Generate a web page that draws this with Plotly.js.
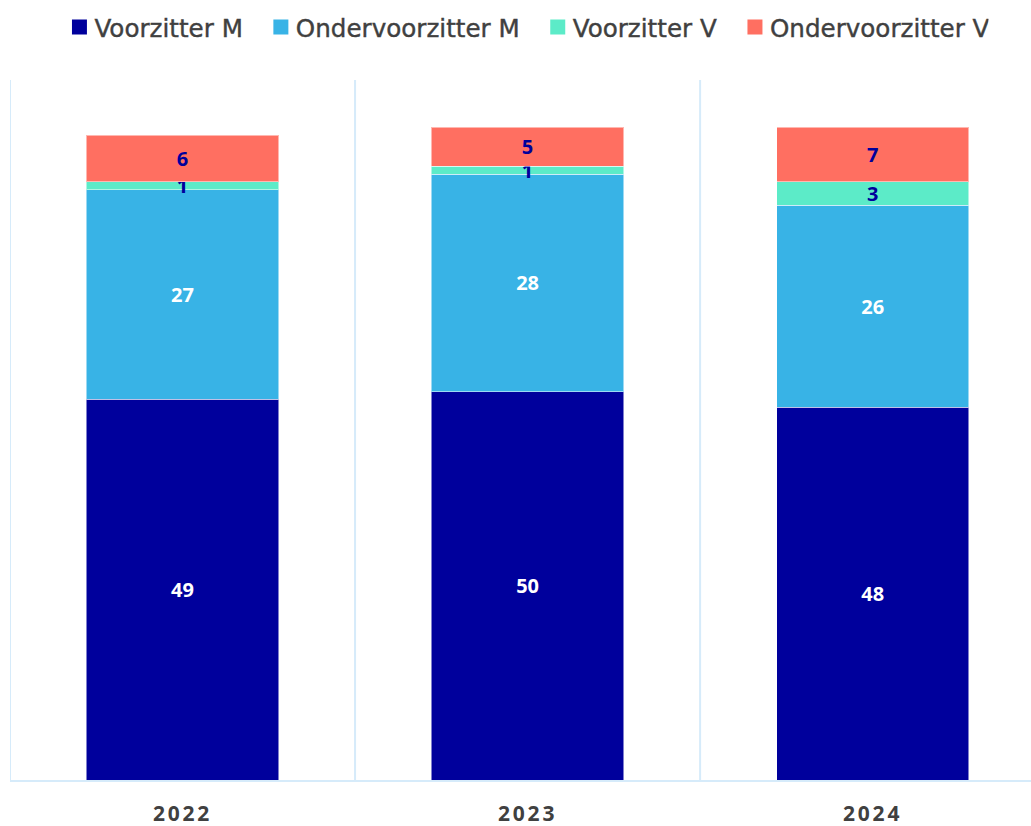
<!DOCTYPE html>
<html>
<head>
<meta charset="utf-8">
<script src="https://cdn.plot.ly/plotly-3.0.1.min.js"></script>
<style>
html,body{margin:0;padding:0;background:#fff;}
#chart{width:1031px;height:826px;}
.xtick text{letter-spacing:2.8px;}
.legendtext{stroke:#404040;stroke-width:0.4px;}
</style>
</head>
<body>
<div id="chart"></div>
<script>
const years = ['2022', '2023', '2024'];
const seriesNames = ['Voorzitter M', 'Ondervoorzitter M', 'Voorzitter V', 'Ondervoorzitter V'];
const voorzitterM = [49, 50, 48];
const ondervoorzitterM = [27, 28, 26];
const voorzitterV = [1, 1, 3];
const ondervoorzitterV = [6, 5, 7];

const colors = ['#00009C', '#38B3E6', '#5CEBC8', '#FF6F61'];
const labelColors = ['#FFFFFF', '#FFFFFF', '#00009C', '#00009C'];
const allValues = [voorzitterM, ondervoorzitterM, voorzitterV, ondervoorzitterV];

const traces = allValues.map((vals, i) => ({
  type: 'bar',
  name: seriesNames[i],
  x: years,
  y: vals,
  width: 0.557,
  marker: {color: colors[i], line: {color: 'rgba(255,255,255,0.5)', width: 1}},
  text: vals.map(String),
  textposition: 'inside',
  insidetextanchor: 'middle',
  textangle: 0,
  constraintext: 'none',
  textfont: {family: 'Noto Sans, sans-serif', size: 20, color: labelColors[i], weight: 'bold'},
  hoverinfo: 'name+y'
}));

const shapes = [-0.5, 0.5, 1.5].map(xv => ({
  type: 'line', xref: 'x', yref: 'paper', x0: xv, x1: xv, y0: 0, y1: 1,
  line: {color: '#D6EBFA', width: 2}, layer: 'below'
}));

const layout = {
  width: 1031, height: 826,
  margin: {l: 10, r: 0, t: 80, b: 46},
  barmode: 'stack',
  bargap: 0.443,
  paper_bgcolor: '#fff', plot_bgcolor: '#fff',
  uniformtext: {mode: 'show', minsize: 20},
  xaxis: {
    type: 'category',
    range: [-0.5, 2.459],
    showgrid: false, zeroline: false,
    showline: true, linecolor: '#D6EBFA', linewidth: 2,
    ticks: '',
    tickfont: {family: 'Noto Sans, sans-serif', size: 21, color: '#404040', weight: 'bold'},
    ticklabelstandoff: 14
  },
  yaxis: {
    range: [0, 90.1],
    showgrid: false, zeroline: false, showline: false, showticklabels: false, ticks: ''
  },
  showlegend: true,
  legend: {
    orientation: 'h',
    xref: 'container', yref: 'container',
    x: 0.514, xanchor: 'center', y: 1 - 27/826, yanchor: 'middle',
    font: {family: 'DejaVu Sans, sans-serif', size: 24.6, color: '#404040'},
    itemclick: false, traceorder: 'normal'
  },
  shapes: shapes
};

function styleLegend() {
  document.querySelectorAll('#chart .legendpoints path').forEach(p => {
    p.setAttribute('d', 'M7.5,7.5H-7.5V-7.5H7.5Z');
    p.style.strokeWidth = '0px';
  });
  const items = Array.from(document.querySelectorAll('#chart .legend g.traces'));
  const n = items.length;
  items.forEach((g, i) => {
    if (g.dataset.shifted) return;
    const t = g.getAttribute('transform') || '';
    const m = t.match(/translate\(\s*([-\d.]+)[ ,]+([-\d.]+)\s*\)/);
    if (m) {
      const dx = (i - (n - 1) / 2) * 8;
      g.setAttribute('transform', 'translate(' + (parseFloat(m[1]) + dx) + ',' + m[2] + ')');
      g.dataset.shifted = '1';
    }
    const txt = g.querySelector('.legendtext');
    if (txt) txt.setAttribute('x', '35');
  });
}

Plotly.newPlot('chart', traces, layout, {displayModeBar: false, staticPlot: true}).then(gd => {
  styleLegend();
  gd.on('plotly_afterplot', styleLegend);
});
</script>
</body>
</html>
